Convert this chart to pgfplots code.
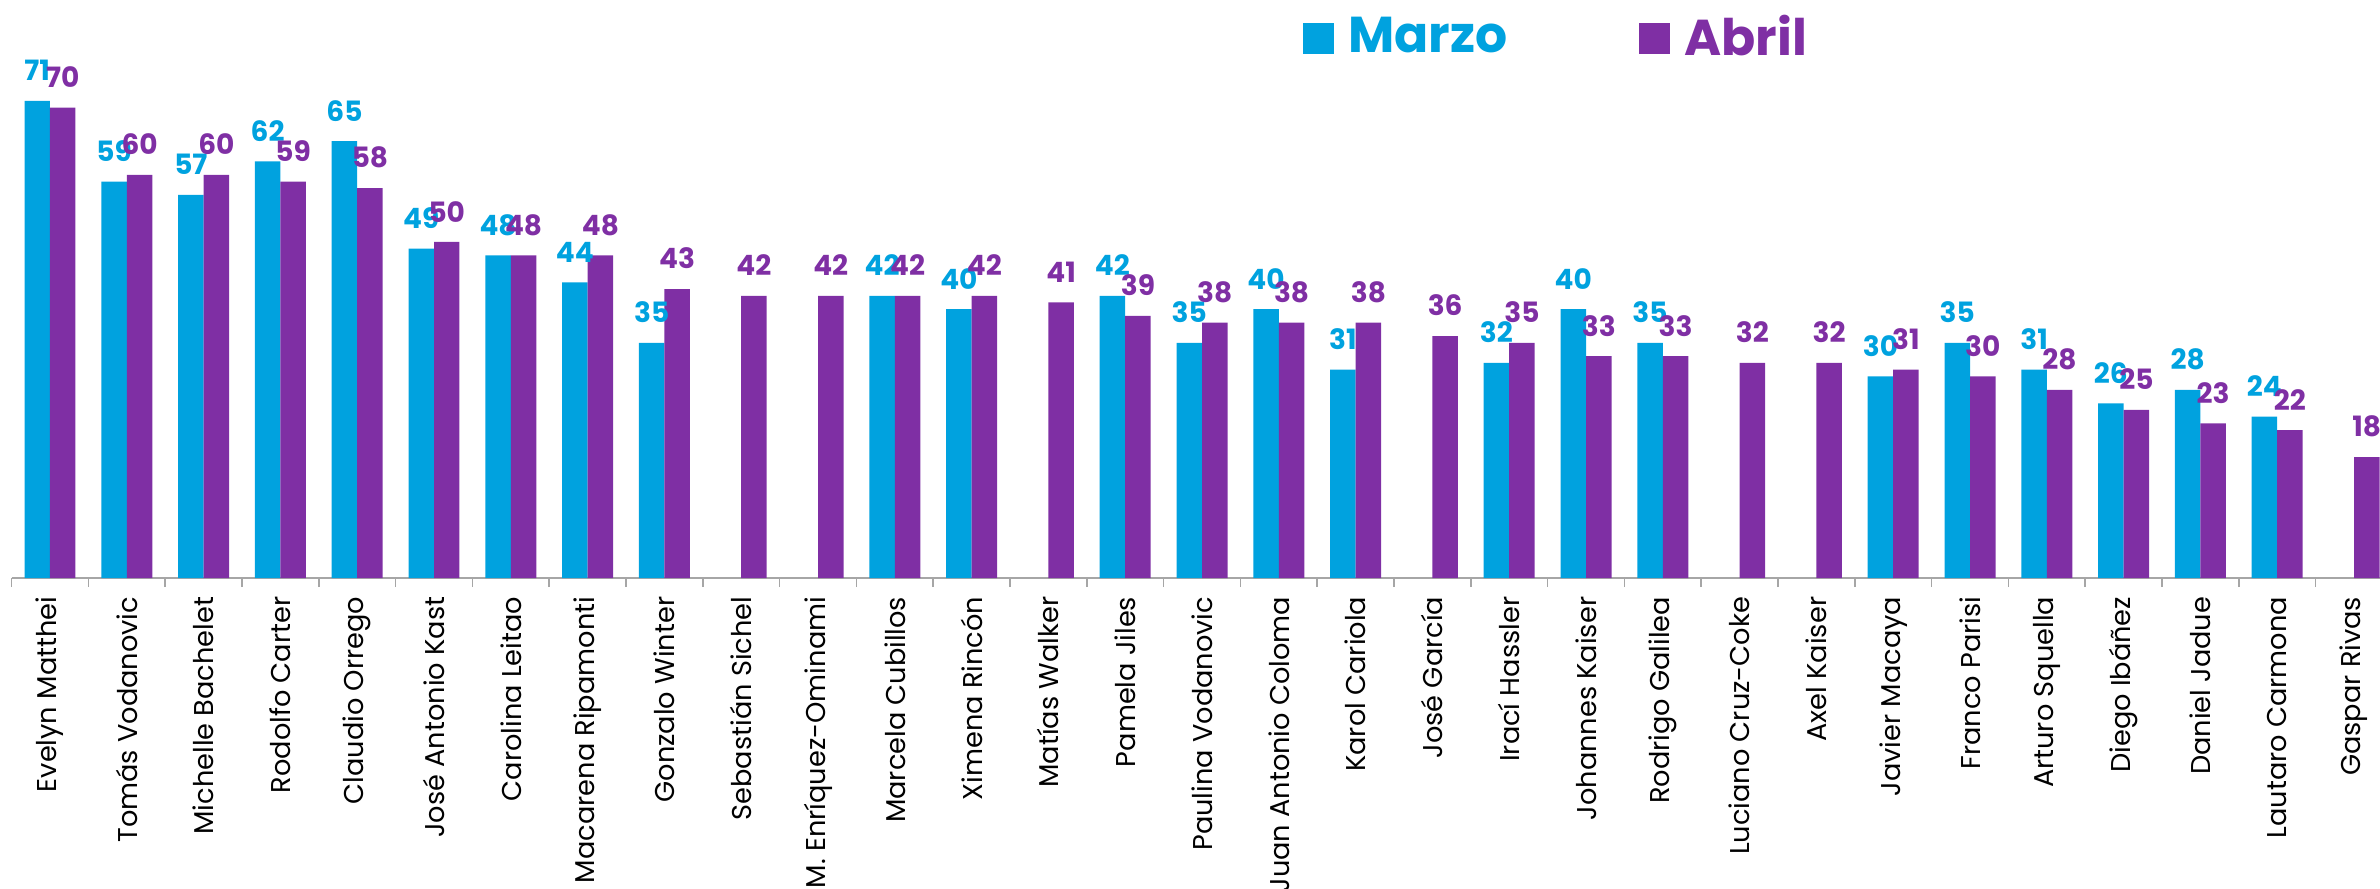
\documentclass[border=0pt]{standalone}
\usepackage{fontspec}
\setmainfont{Poppins}
\usepackage{pgfplots}
\pgfplotsset{compat=1.18}
\definecolor{marzo}{HTML}{00A2DF}
\definecolor{abril}{HTML}{7F2FA4}
\definecolor{axisgray}{HTML}{A6A6A6}

\begin{document}
\begin{tikzpicture}
\begin{axis}[
    x=19.2pt, y=1.68pt,
    xmin=-0.5, xmax=30.332, ymin=0, ymax=86,
    ybar, bar width=0.332,
    clip=false,
    hide y axis,
    axis x line*=bottom,
    axis line style={draw=axisgray, line width=0.45pt},
    xtick={0,...,30},
    major tick length=0pt,
    minor xtick={-0.5,0.5,...,29.5},
    minor tick length=2.3pt,
    tick align=outside,
    minor tick style={draw=axisgray, line width=0.4pt},
    xticklabels={Evelyn Matthei, Tomás Vodanovic, Michelle Bachelet, Rodolfo Carter,
      Claudio Orrego, José Antonio Kast, Carolina Leitao, Macarena Ripamonti,
      Gonzalo Winter, Sebastián Sichel, M. Enríquez-Ominami, Marcela Cubillos,
      Ximena Rincón, Matías Walker, Pamela Jiles, Paulina Vodanovic,
      Juan Antonio Coloma, Karol Cariola, José García, Irací Hassler,
      Johannes Kaiser, Rodrigo Galilea, Luciano Cruz-Coke, Axel Kaiser,
      Javier Macaya, Franco Parisi, Arturo Squella, Diego Ibáñez,
      Daniel Jadue, Lautaro Carmona, Gaspar Rivas},
    xticklabel style={rotate=90, anchor=east, inner sep=0pt,
      font=\fontsize{6.8}{8}\selectfont},
    xticklabel shift=4.5pt,
    /pgf/number format/assume math mode=true,
    every node near coord/.append style={anchor=south, inner sep=0pt, yshift=4.8pt,
      font=\fontsize{7}{8}\selectfont\bfseries},
    legend columns=2,
    legend style={at={(0.545,0.934)}, anchor=west, draw=none, fill=none,
      inner sep=0pt, cells={anchor=west}, nodes={inner sep=0pt},
      font=\fontsize{12.6}{14}\selectfont\bfseries,
      /tikz/every odd column/.append style={column sep=3.5pt},
      /tikz/every even column/.append style={column sep=33pt}},
  ]
  \coordinate (O) at (axis cs:-0.5,0);
  % Marzo (no value for candidates absent that month)
  \addplot[fill=marzo, draw=none, bar shift=-0.166,
    nodes near coords, nodes near coords style={text=marzo},
    legend image code/.code={\fill[marzo] (0pt,-3.9pt) rectangle (7.8pt,3.9pt);}]
    coordinates {
    (0,71) (1,59) (2,57) (3,62) (4,65) (5,49) (6,48) (7,44) (8,35)
    (11,42) (12,40) (14,42) (15,35) (16,40) (17,31) (19,32) (20,40)
    (21,35) (24,30) (25,35) (26,31) (27,26) (28,28) (29,24)
  };
  \addlegendentry{\textcolor{marzo}{Marzo}}
  % Abril
  \addplot[fill=abril, draw=none, bar shift=0.166,
    nodes near coords, nodes near coords style={text=abril},
    legend image code/.code={\fill[abril] (0pt,-3.9pt) rectangle (7.8pt,3.9pt);}]
    coordinates {
    (0,70) (1,60) (2,60) (3,59) (4,58) (5,50) (6,48) (7,48) (8,43)
    (9,42) (10,42) (11,42) (12,42) (13,41) (14,39) (15,38) (16,38)
    (17,38) (18,36) (19,35) (20,33) (21,33) (22,32) (23,32) (24,31)
    (25,30) (26,28) (27,25) (28,23) (29,22) (30,18)
  };
  \addlegendentry{\textcolor{abril}{Abril}}
\end{axis}
\pgfresetboundingbox
\path[use as bounding box] (O) ++(-2.9pt,-77.75pt) rectangle ++(595pt,222.25pt);
\end{tikzpicture}
\end{document}
